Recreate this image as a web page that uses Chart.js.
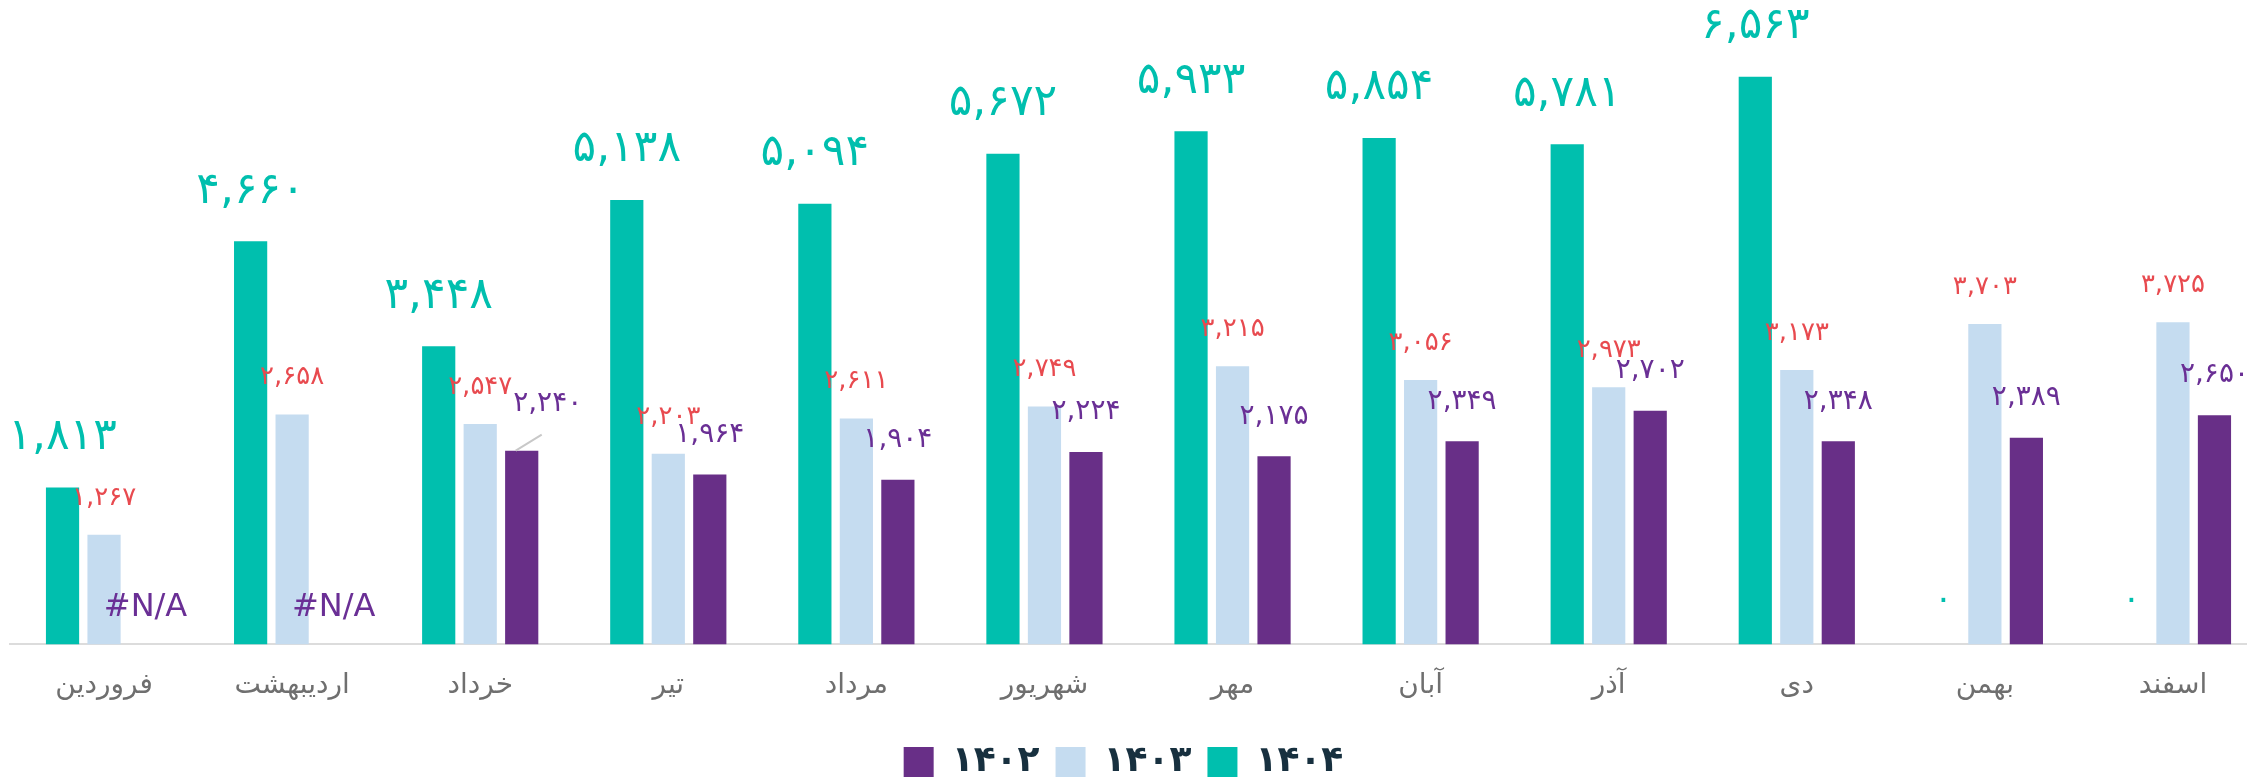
<!DOCTYPE html>
<html lang="fa">
<head>
    <meta charset="UTF-8">
    <title>نمودار ماهانه</title>
    <script src="https://cdn.jsdelivr.net/npm/chart.js"></script>
    <style>
        html, body {
            margin: 0;
            padding: 0;
            background: #ffffff;
            overflow: hidden;
        }
        .chart-box {
            width: 2267px;
            height: 790px;
            position: relative;
        }
    </style>
</head>
<body>
<div class="chart-box">
    <canvas id="monthlyChart"></canvas>
</div>

<script>
    // داده‌ها
    const months = ["فروردین", "اردیبهشت", "خرداد", "تیر", "مرداد", "شهریور", "مهر", "آبان", "آذر", "دی", "بهمن", "اسفند"];
    const yearLabels = ["۱۴۰۴", "۱۴۰۳", "۱۴۰۲"];
    const values1404 = [1813, 4660, 3448, 5138, 5094, 5672, 5933, 5854, 5781, 6563, 0, 0];
    const values1403 = [1267, 2658, 2547, 2203, 2611, 2749, 3215, 3056, 2973, 3173, 3703, 3725];
    const values1402 = [null, null, 2240, 1964, 1904, 2224, 2175, 2349, 2702, 2348, 2389, 2650];

    const colors = ["#00bfae", "#c5dcf0", "#682f87"];
    const labelColors = ["#00bfae", "#e84a4f", "#6a2f95"];

    // تبدیل عدد به رقم فارسی
    function toPersian(n) {
        const s = n.toLocaleString("en-US");
        return s.replace(/[0-9]/g, d => String.fromCharCode(0x06F0 + Number(d)));
    }

    // برچسب مقادیر روی ستون‌ها
    const valueLabels = {
        id: "valueLabels",
        afterDatasetsDraw(chart) {
            const ctx = chart.ctx;
            const base = chart.scales.y.getPixelForValue(0);
            const styles = [
                { size: 44, offset: 50 },
                { size: 26, offset: 37 },
                { size: 28, offset: 40 }
            ];
            ctx.save();
            ctx.textAlign = "center";
            ctx.textBaseline = "middle";
            chart.data.datasets.forEach((ds, di) => {
                const meta = chart.getDatasetMeta(di);
                const st = styles[di];
                meta.data.forEach((bar, i) => {
                    const v = ds.data[i];
                    ctx.fillStyle = labelColors[di];
                    if (v === null) {
                        ctx.font = "32px 'DejaVu Sans', sans-serif";
                        ctx.fillText("#N/A", bar.x, base - 37);
                        return;
                    }
                    if (v === 0) {
                        ctx.font = "34px 'DejaVu Sans', sans-serif";
                        ctx.fillText(toPersian(v), bar.x, base - 44);
                        return;
                    }
                    ctx.font = st.size + "px 'DejaVu Sans', sans-serif";
                    let x = bar.x;
                    let y = bar.y - st.offset;
                    // برچسب جابه‌جا شده با خط راهنما
                    if (di === 2 && i === 2) {
                        x += 26;
                        y -= 7;
                        ctx.strokeStyle = "#c8c8c8";
                        ctx.lineWidth = 2;
                        ctx.beginPath();
                        ctx.moveTo(bar.x - 6, bar.y);
                        ctx.lineTo(bar.x + 20, bar.y - 16);
                        ctx.stroke();
                    }
                    ctx.fillText(toPersian(v), x, y);
                });
            });
            ctx.restore();
        }
    };

    // وسط‌چین کردن راهنما نسبت به پنجره
    const legendCenter = {
        id: "legendCenter",
        afterLayout(chart) {
            chart.legend.left = 0;
            chart.legend.right = window.innerWidth;
        }
    };

    Chart.defaults.font.family = "'DejaVu Sans', sans-serif";

    new Chart(document.getElementById("monthlyChart"), {
        type: "bar",
        data: {
            labels: months,
            datasets: [
                { label: yearLabels[0], data: values1404, backgroundColor: colors[0] },
                { label: yearLabels[1], data: values1403, backgroundColor: colors[1] },
                { label: yearLabels[2], data: values1402, backgroundColor: colors[2] }
            ]
        },
        options: {
            responsive: true,
            maintainAspectRatio: false,
            animation: false,
            layout: { padding: { top: 0, left: 10, right: 0, bottom: 0 } },
            datasets: {
                bar: { categoryPercentage: 0.662, barPercentage: 0.8 }
            },
            plugins: {
                legend: {
                    position: "bottom",
                    reverse: true,
                    labels: {
                        boxWidth: 30,
                        boxHeight: 30,
                        padding: 16,
                        color: "#17303f",
                        font: { size: 36, weight: "600" }
                    }
                },
                tooltip: { enabled: false }
            },
            scales: {
                x: {
                    grid: { display: false, drawTicks: false },
                    border: { display: true, color: "#dcdcdc", width: 2 },
                    ticks: { color: "#6f6f6f", font: { size: 28 }, padding: 25 }
                },
                y: {
                    display: false,
                    min: 0,
                    max: 7450
                }
            }
        },
        plugins: [valueLabels, legendCenter]
    });
</script>
</body>
</html>
